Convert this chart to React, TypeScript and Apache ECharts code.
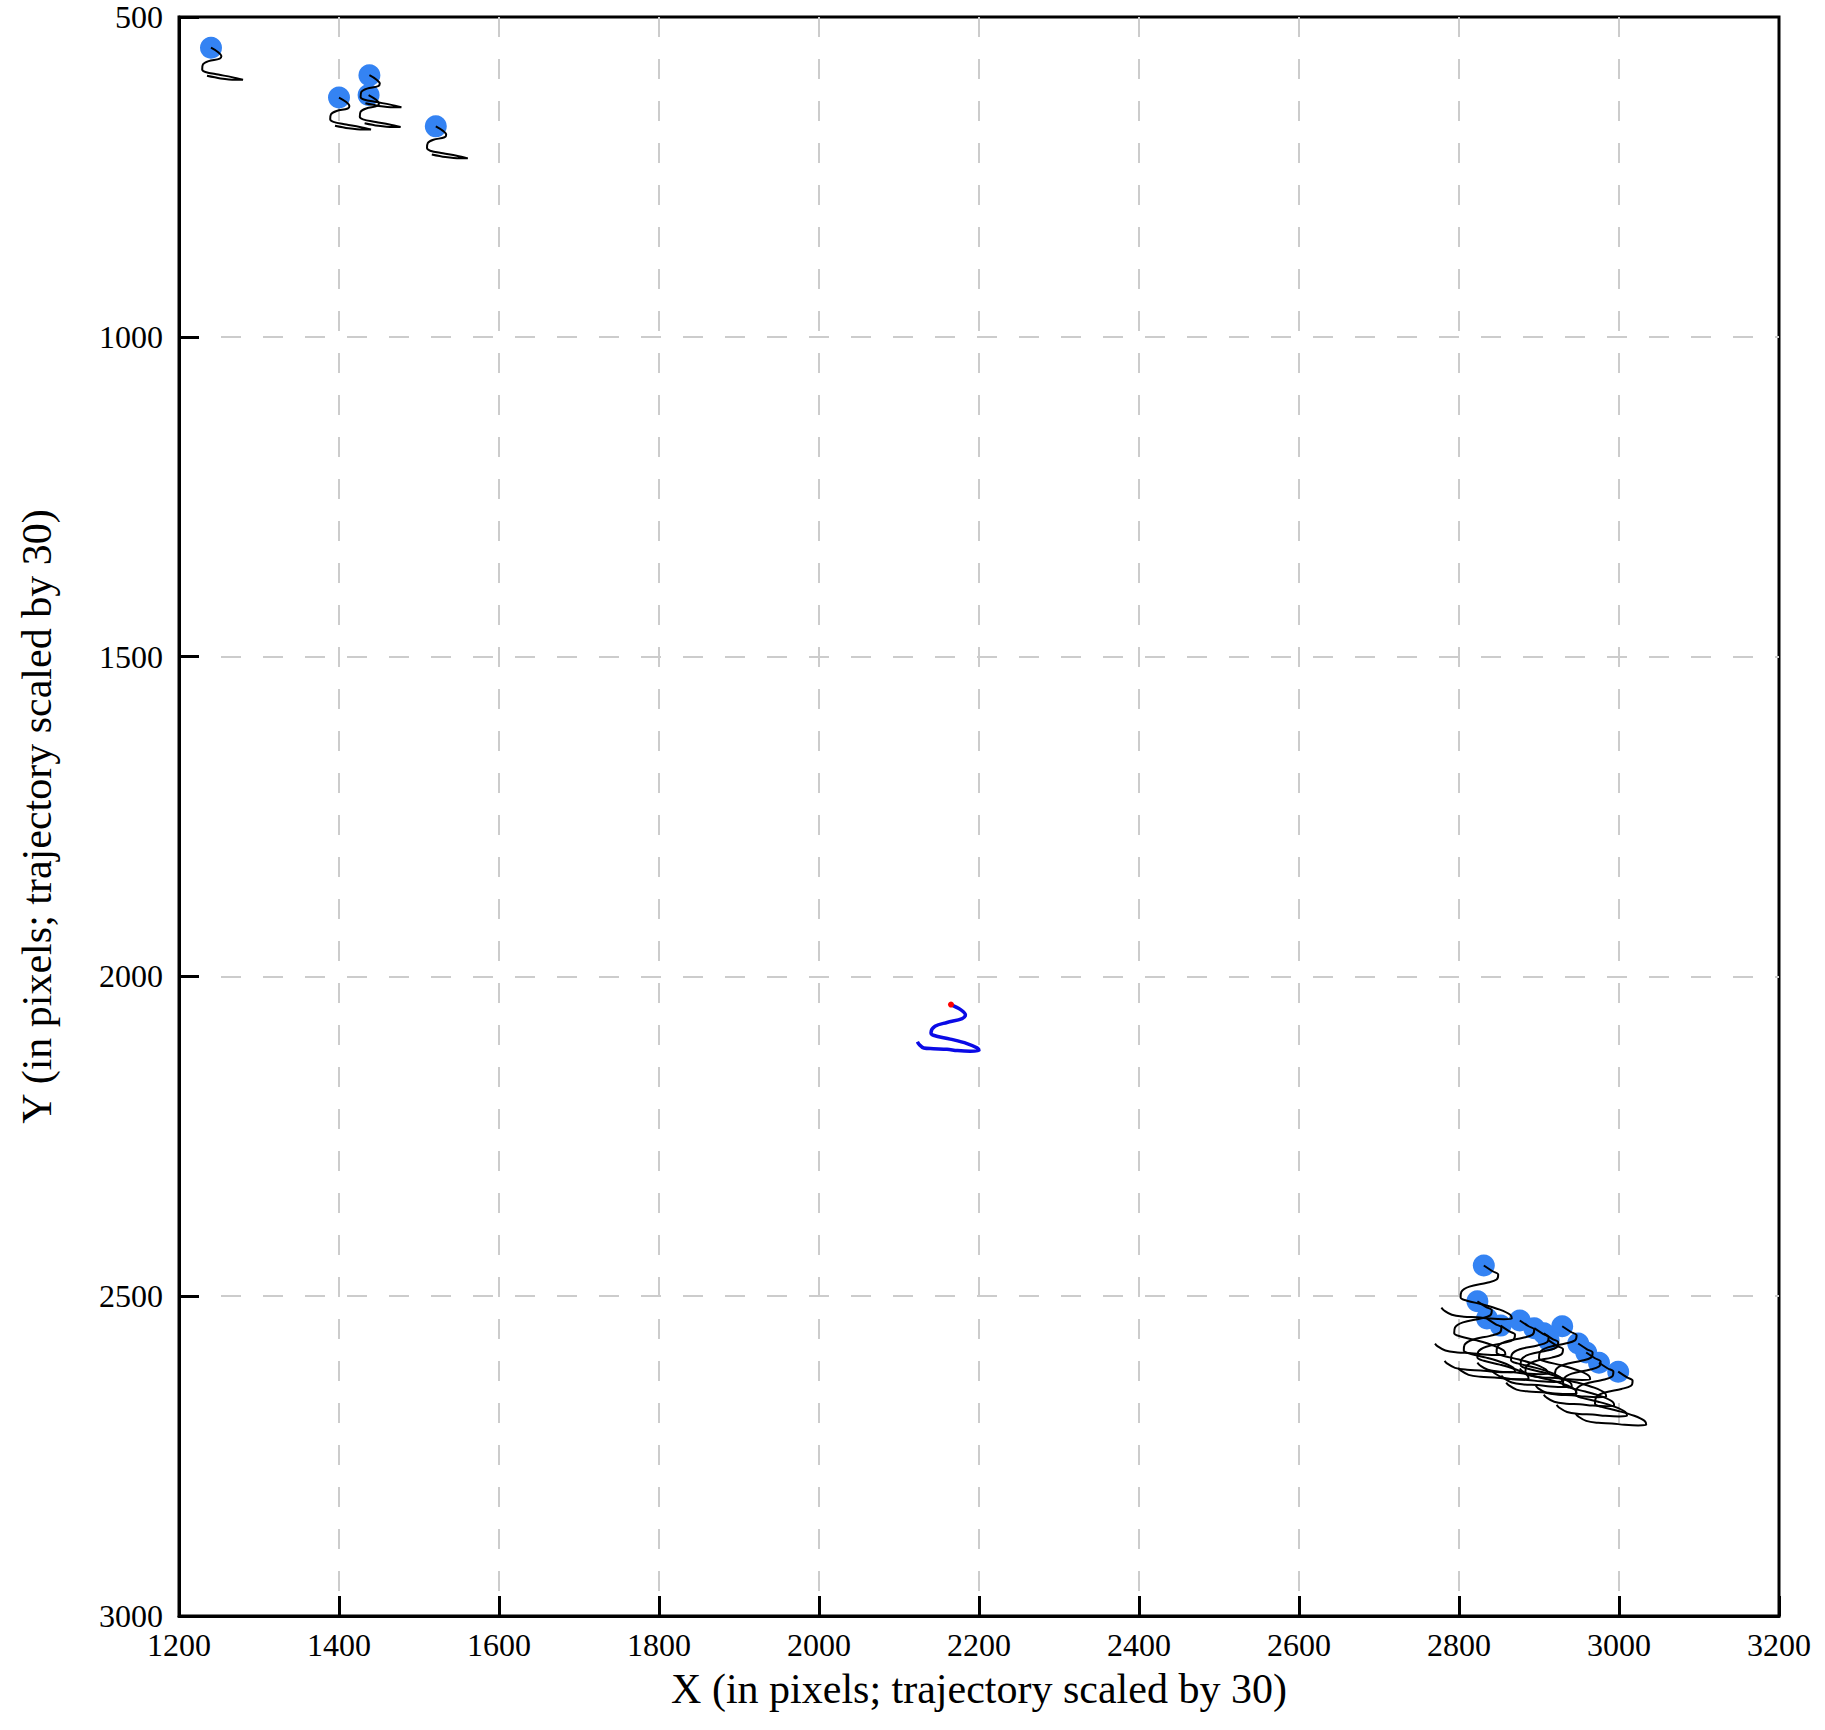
import React, { useEffect, useRef } from "react";
import * as echarts from "echarts";

// Axis ranges
const X_MIN = 1200;
const X_MAX = 3200;
const X_STEP = 200;
const Y_MIN = 500;
const Y_MAX = 3000;
const Y_STEP = 500;

// Agent positions (blue dots), top-left group
const agentsTopLeft: [number, number][] = [
  [1240, 548],
  [1400, 626],
  [1438, 591],
  [1437, 622],
  [1521, 671],
];

// Agent positions (blue dots), bottom-right group
const agentsBottomRight: [number, number][] = [
  [2831, 2452],
  [2823, 2508],
  [2835, 2535],
  [2852, 2546],
  [2876, 2538],
  [2894, 2550],
  [2906, 2558],
  [2912, 2569],
  [2929, 2547],
  [2949, 2574],
  [2959, 2588],
  [2975, 2604],
  [2999, 2618],
];

// Trajectory (scaled by 30) offsets from each agent, top-left group
const trajTopLeft: [number, number][] = [
  [0, 0], [9, 7], [13, 13], [11, 17], [-3, 21], [-10, 26], [-11, 34], [-7, 38],
  [9, 42], [26, 46], [40, 50], [30, 50], [12, 48], [-5, 44],
];

// Trajectory (scaled by 30) offsets from each agent, bottom-right group
const trajBottomRight: [number, number][] = [
  [0, 0], [11, 9], [18, 14], [16, 22], [4, 27], [-18, 33], [-28, 41], [-29, 50],
  [-21, 55], [-1, 61], [20, 69], [33, 77], [35, 83], [25, 84], [8, 83], [-8, 81],
  [-25, 80], [-40, 77], [-50, 70], [-53, 66],
];

// Ego vehicle start (red dot) and its trajectory offsets (blue line)
const egoStart: [number, number] = [2165, 2044];
const egoTraj: [number, number][] = [
  [0, 0], [12, 8], [18, 16], [14, 22], [-5, 28], [-20, 34], [-25, 44], [-22, 48],
  [-1, 54], [20, 61], [33, 68], [35, 72], [24, 73], [8, 72], [-5, 70], [-22, 69],
  [-34, 68], [-40, 62], [-42, 58],
];

const FONT = "Liberation Serif, Times New Roman, serif";

function buildOption(): echarts.EChartsOption {
  const series: any[] = [];
  const allAgents = [...agentsTopLeft, ...agentsBottomRight];
  series.push({
    type: "scatter",
    data: allAgents,
    symbolSize: 22,
    itemStyle: { color: "#3483f3", opacity: 1 },
    z: 2,
    silent: true,
  });
  const addTraj = (start: [number, number], traj: [number, number][]) => {
    series.push({
      type: "line",
      data: traj.map(([dx, dy]) => [start[0] + dx, start[1] + dy]),
      showSymbol: false,
      smooth: 0.35,
      lineStyle: { color: "#000", width: 2 },
      z: 3,
      silent: true,
    });
  };
  agentsTopLeft.forEach((a) => addTraj(a, trajTopLeft));
  agentsBottomRight.forEach((a) => addTraj(a, trajBottomRight));
  series.push({
    type: "line",
    data: egoTraj.map(([dx, dy]) => [egoStart[0] + dx, egoStart[1] + dy]),
    showSymbol: false,
    smooth: 0.35,
    lineStyle: { color: "#0a0ae6", width: 3.5 },
    z: 4,
    silent: true,
  });
  series.push({
    type: "scatter",
    data: [egoStart],
    symbolSize: 6,
    itemStyle: { color: "#ff0000", opacity: 1 },
    z: 5,
    silent: true,
  });

  const axisCommon = {
    type: "value" as const,
    axisLine: { show: true, onZero: false, lineStyle: { color: "#000", width: 3 } },
    axisTick: { show: true, inside: true, length: 20, lineStyle: { color: "#000", width: 3 } },
    splitLine: {
      show: true,
      showMinLine: false,
      showMaxLine: false,
      lineStyle: { color: "#cccccc", width: 2, type: [20, 22] as any },
    },
    nameLocation: "middle" as const,
    nameTextStyle: { fontFamily: FONT, fontSize: 42, color: "#000" },
  };
  const labelFmt = (v: number) => String(v);

  return {
    animation: false,
    backgroundColor: "#ffffff",
    grid: {
      left: 179,
      top: 17,
      width: 1600,
      height: 1599,
      show: true,
      borderColor: "#000",
      borderWidth: 3,
      backgroundColor: "transparent",
    },
    xAxis: {
      ...axisCommon,
      min: X_MIN,
      max: X_MAX,
      interval: X_STEP,
      position: "bottom",
      name: "X (in pixels; trajectory scaled by 30)",
      nameGap: 52,
      axisLabel: { color: "#000", fontFamily: FONT, fontSize: 32, margin: 13, formatter: labelFmt },
    },
    yAxis: {
      ...axisCommon,
      min: Y_MIN,
      max: Y_MAX,
      interval: Y_STEP,
      inverse: true,
      position: "left",
      name: "Y (in pixels; trajectory scaled by 30)",
      nameGap: 121,
      axisLabel: { color: "#000", fontFamily: FONT, fontSize: 32, margin: 16, formatter: labelFmt },
    },
    series,
  };
}

export default function App() {
  const ref = useRef<HTMLDivElement>(null);
  useEffect(() => {
    if (!ref.current) return;
    const chart = echarts.init(ref.current, undefined, { renderer: "svg" });
    chart.setOption(buildOption());
    return () => chart.dispose();
  }, []);
  return (
    <div
      ref={ref}
      style={{ position: "absolute", left: 0, top: 0, width: 1825, height: 1730, background: "#fff" }}
    />
  );
}
